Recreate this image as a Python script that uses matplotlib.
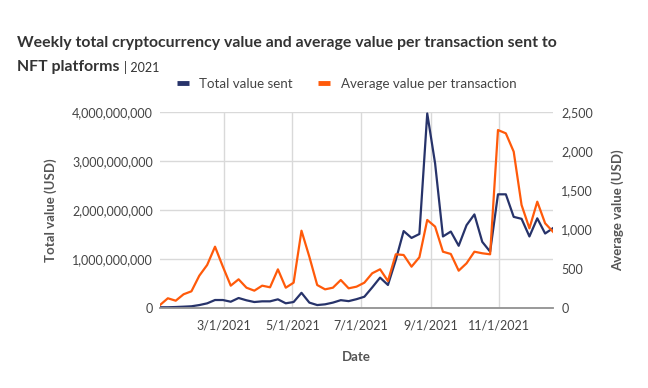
import numpy as np
import pandas as pd
import matplotlib
matplotlib.use("Agg")
from matplotlib import pyplot as plt
from matplotlib.lines import Line2D
from matplotlib.ticker import FuncFormatter, MultipleLocator

plt.rcParams['font.family'] = ['Lato', 'DejaVu Sans']

# weekly values, first week starting 2021-01-03
weeks = pd.date_range("2021-01-03", periods=51, freq="7D")

# total value sent, billions of USD
total_bn = [0.015, 0.015, 0.02, 0.027, 0.035, 0.06, 0.095, 0.163, 0.163, 0.128,
            0.204, 0.157, 0.122, 0.136, 0.136, 0.177, 0.096, 0.122, 0.31, 0.11,
            0.06, 0.075, 0.11, 0.16, 0.14, 0.18, 0.23, 0.42, 0.62, 0.47,
            0.98, 1.57, 1.43, 1.51, 3.97, 2.95, 1.46, 1.56, 1.27, 1.69,
            1.91, 1.35, 1.15, 2.32, 2.32, 1.86, 1.82, 1.46, 1.83, 1.52, 1.63]

# average value per transaction, USD
avg_value = [38, 124, 93, 175, 213, 412, 549, 782, 527, 285,
             366, 259, 221, 285, 264, 493, 259, 323, 986, 654,
             293, 238, 259, 357, 251, 272, 323, 443, 494, 344,
             685, 676, 527, 647, 1123, 1038, 718, 689, 476, 570,
             718, 698, 685, 2270, 2228, 1994, 1314, 1016, 1356, 1080, 973]

xtick_dates = pd.to_datetime(["2021-03-01", "2021-05-01", "2021-07-01",
                              "2021-09-01", "2021-11-01"])

navy = "#27336a"
orange = "#ff5a0a"
txt = "#444444"

fig = plt.figure(figsize=(6.48, 3.88), dpi=100)
ax = fig.add_axes([160 / 648, 1 - 308 / 388, 393 / 648, 196 / 388])
ax2 = ax.twinx()

total = np.array(total_bn) * 1e9
ax.plot(weeks, total, color=navy, lw=1.6, zorder=3)
ax2.plot(weeks, avg_value, color=orange, lw=1.6, zorder=3)

ax.set_xlim(weeks[0], weeks[-1])
ax.set_ylim(0, 4e9)
ax2.set_ylim(0, 2500)
ax.yaxis.set_major_locator(MultipleLocator(1e9))
ax2.yaxis.set_major_locator(MultipleLocator(500))
ax.yaxis.set_major_formatter(FuncFormatter(lambda v, p: f"{v:,.0f}"))
ax2.yaxis.set_major_formatter(FuncFormatter(lambda v, p: f"{v:,.0f}"))

ax.set_xticks(xtick_dates)
ax.set_xticklabels([f"{d.month}/{d.day}/{d.year}" for d in xtick_dates])

ax.grid(True, color="#d9d9d9", lw=1)
ax.set_axisbelow(True)
for a in (ax, ax2):
    for s in ("top", "left", "right"):
        a.spines[s].set_visible(False)
    a.spines["bottom"].set_color("#999999")
    a.spines["bottom"].set_linewidth(1.2)
    a.tick_params(length=0, labelsize=9, colors=txt)
ax.tick_params(axis="y", pad=5)
ax2.tick_params(axis="y", pad=6)
ax.tick_params(axis="x", pad=8)

ax.set_xlabel("Date", fontsize=9.5, fontweight="bold", color="#555555", labelpad=14)
ax.set_ylabel("Total value (USD)", fontsize=9.5, fontweight="bold", color="#555555", labelpad=11)
ax2.set_ylabel("Average value (USD)", fontsize=9.5, fontweight="bold", color="#555555", labelpad=13)

fig.text(17 / 648, 1 - 43 / 388, "Weekly total cryptocurrency value and average value per transaction sent to",
         fontsize=11.4, fontweight="bold", color="#333333", va="center")
t2 = fig.text(17 / 648, 1 - 67 / 388, "NFT platforms", fontsize=11.4, fontweight="bold",
              color="#333333", va="center")
fig.canvas.draw()
bb = t2.get_window_extent()
fig.text((bb.x1 + 4) / 648, 1 - 67 / 388, "| 2021", fontsize=9, color="#333333", va="center")

handles = [Line2D([], [], color=navy, lw=3.5, solid_capstyle="butt"),
           Line2D([], [], color=orange, lw=3.5, solid_capstyle="butt")]
fig.legend(handles, ["Total value sent", "Average value per transaction"], loc="center",
           bbox_to_anchor=(0.535, 1 - 84 / 388), ncol=2, frameon=False, fontsize=9.6,
           labelcolor=txt, handlelength=0.9, handletextpad=0.8, columnspacing=1.9)

fig.savefig("out.png", dpi=100)
